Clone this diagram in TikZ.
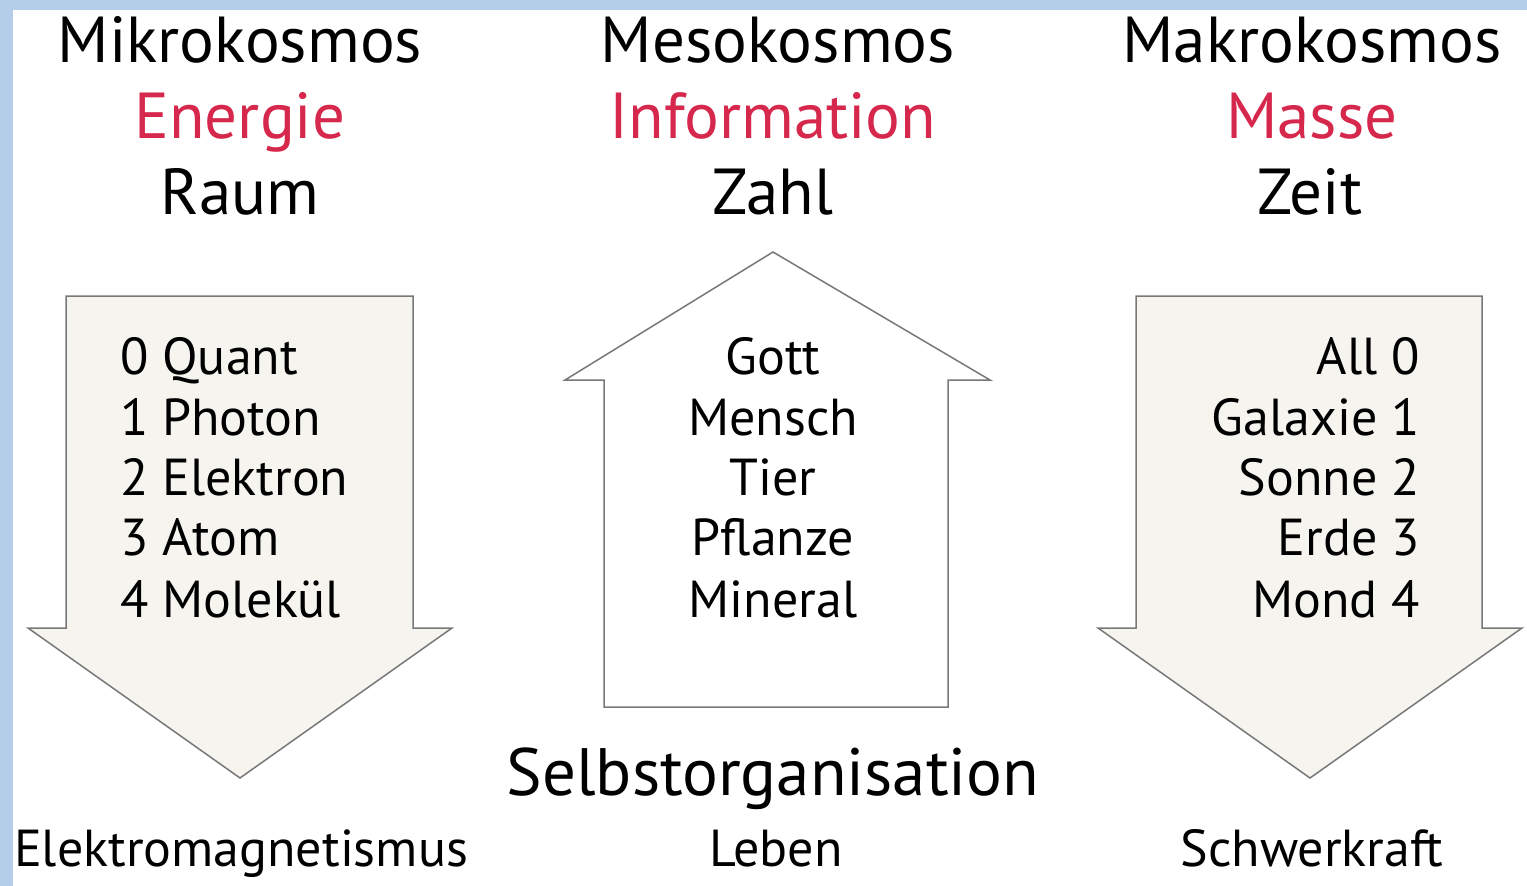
\documentclass[tikz,border=0pt]{standalone}
\usepackage{fontspec}
\setmainfont{PT Sans}
\usepackage{tikz}
\definecolor{frame}{RGB}{180, 205, 232}
\definecolor{rot}{RGB}{214, 40, 76}
\definecolor{papier}{RGB}{246, 244, 239}
\definecolor{rand}{RGB}{120, 120, 120}

\tikzset{
  titel/.style={anchor=base, inner sep=0pt, font=\fontsize{65}{67}\selectfont},
  eintrag/.style={anchor=base, inner sep=0pt, font=\fontsize{52}{54}\selectfont},
  pfeil/.style={draw=rand, line width=1.5pt, line join=miter, fill=papier},
}

\begin{document}
\begin{tikzpicture}[x=1pt, y=-1pt]
\useasboundingbox (0,0) rectangle (1527,886);
\fill [frame] (0,0) rectangle (1527,886);
\fill [white] (13,10) rectangle (1527,886);
% the three arrows
\draw [pfeil] (66,296) -- (413,296) -- (413,628) -- (452,628) -- (240,778) -- (28,628) -- (66,628) -- cycle;
\draw [pfeil, fill=white] (604,707) -- (604,380) -- (565,380) -- (773,252) -- (990,380) -- (948,380) -- (948,707) -- cycle;
\draw [pfeil] (1136,296) -- (1482,296) -- (1482,628) -- (1522,628) -- (1310,778) -- (1098,628) -- (1136,628) -- cycle;
% headings
\node (mikro) [titel] at (240,62) {Mikrokosmos};
\node (energie) [titel, text=rot] at (240,138) {Energie};
\node (raum) [titel] at (240,214) {Raum};
\node (meso) [titel] at (778,62) {Mesokosmos};
\node (info) [titel, text=rot] at (773,138) {Information};
\node (zahl) [titel] at (773,214) {Zahl};
\node (makro) [titel] at (1312,62) {Makrokosmos};
\node (masse) [titel, text=rot] at (1312,138) {Masse};
\node (zeit) [titel] at (1310,214) {Zeit};
% left list
\node (quant) [eintrag, anchor=base west] at (120,374) {0 Quant};
\node (photon) [eintrag, anchor=base west] at (120,435) {1 Photon};
\node (elektron) [eintrag, anchor=base west] at (120,495) {2 Elektron};
\node (atom) [eintrag, anchor=base west] at (120,555) {3 Atom};
\node (molekuel) [eintrag, anchor=base west] at (120,617) {4 Molekül};
% middle list
\node (gott) [eintrag] at (773,374) {Gott};
\node (mensch) [eintrag] at (773,435) {Mensch};
\node (tier) [eintrag] at (773,495) {Tier};
\node (pflanze) [eintrag] at (773,555) {Pflanze};
\node (mineral) [eintrag] at (773,617) {Mineral};
% right list
\node (all) [eintrag, anchor=base east] at (1420,374) {All 0};
\node (galaxie) [eintrag, anchor=base east] at (1420,435) {Galaxie 1};
\node (sonne) [eintrag, anchor=base east] at (1420,495) {Sonne 2};
\node (erde) [eintrag, anchor=base east] at (1420,555) {Erde 3};
\node (mond) [eintrag, anchor=base east] at (1420,617) {Mond 4};
% bottom labels
\node (selbst) [titel, font=\fontsize{67}{69}\selectfont] at (773,795) {Selbstorganisation};
\node (elmag) [eintrag] at (241,866) {Elektromagnetismus};
\node (leben) [eintrag] at (776,866) {Leben};
\node (schwer) [eintrag] at (1312,866) {Schwerkraft};
\end{tikzpicture}
\end{document}
